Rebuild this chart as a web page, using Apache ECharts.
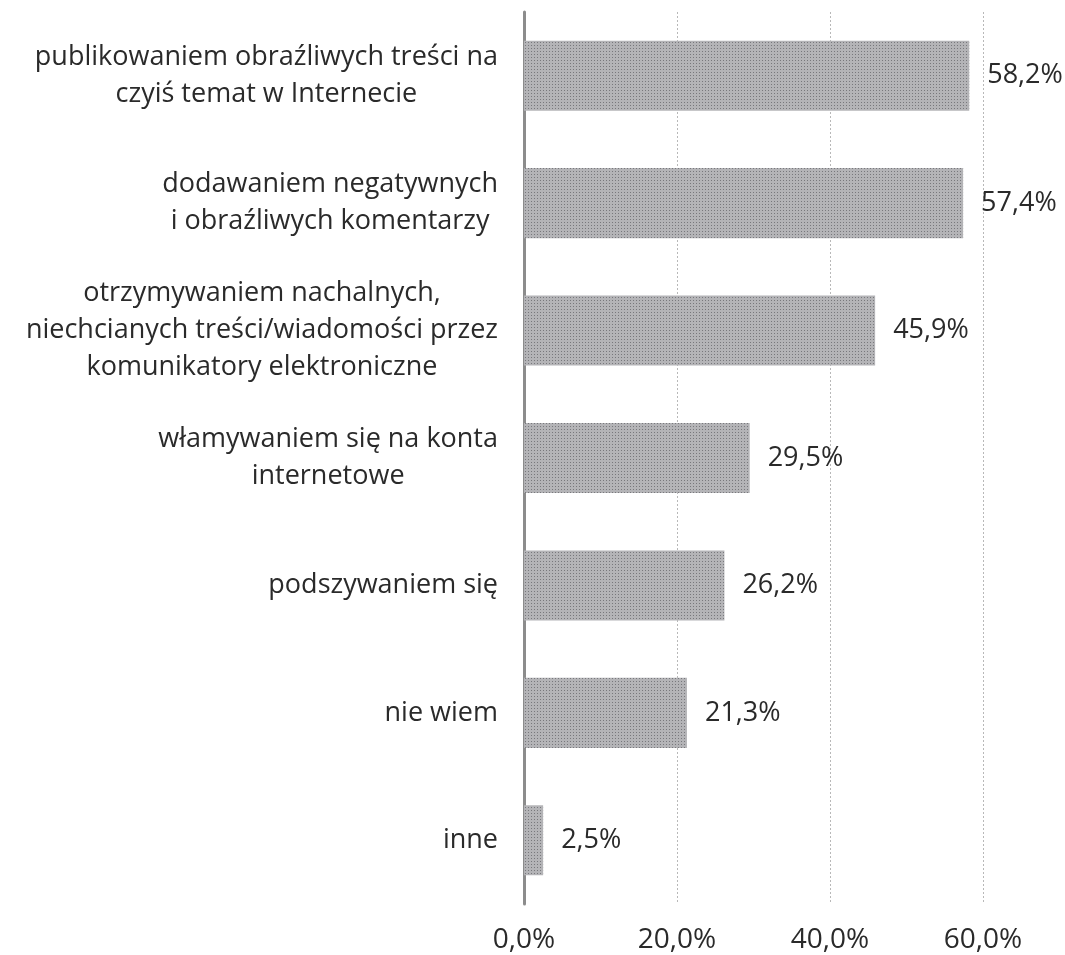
<!DOCTYPE html>
<html>
<head>
<meta charset="utf-8">
<script src="https://cdn.jsdelivr.net/npm/echarts@6/dist/echarts.min.js"></script>
<style>
  html, body { margin: 0; padding: 0; background: #ffffff; }
  #chart { width: 1065px; height: 955px; }
</style>
</head>
<body>
<div id="chart"></div>
<script>
// Categories (top to bottom as displayed)
const categories = [
  'publikowaniem obraźliwych treści na\nczyiś temat w Internecie',
  'dodawaniem negatywnych\ni obraźliwych komentarzy',
  'otrzymywaniem nachalnych,\nniechcianych treści/wiadomości przez\nkomunikatory elektroniczne',
  'włamywaniem się na konta\ninternetowe',
  'podszywaniem się',
  'nie wiem',
  'inne'
];
// Share of answers, in percent
const values = [58.2, 57.4, 45.9, 29.5, 26.2, 21.3, 2.5];
// Value-axis ticks
const xTicks = [0, 20, 40, 60];

const fmt = v => v.toFixed(1).replace('.', ',') + '%';
const font = '"Open Sans", "Noto Sans", sans-serif';

const chart = echarts.init(document.getElementById('chart'), null, { renderer: 'canvas' });

chart.setOption({
  backgroundColor: '#ffffff',
  animation: false,
  grid: { left: 524, right: 82, top: 12, bottom: 51, containLabel: false },
  xAxis: {
    type: 'value',
    min: xTicks[0],
    max: xTicks[xTicks.length - 1],
    interval: xTicks[1] - xTicks[0],
    axisLine: { show: false },
    axisTick: { show: false },
    splitLine: { show: true, lineStyle: { color: '#b8b8b8', width: 1, type: [2, 2] } },
    axisLabel: {
      formatter: fmt,
      color: '#2a2a2a',
      fontFamily: font,
      fontSize: 28,
      margin: 22
    }
  },
  yAxis: {
    type: 'category',
    inverse: true,
    data: categories,
    axisLine: { show: true, lineStyle: { color: '#8c8c8c', width: 3 } },
    axisTick: { show: false },
    splitLine: { show: false },
    axisLabel: {
      margin: 26,
      align: 'right',
      formatter: v => v.split('\n').map(s => '{c|' + s + '}').join('\n'),
      rich: {
        c: {
          align: 'center',
          color: '#2a2a2a',
          fontFamily: font,
          fontSize: 27,
          lineHeight: 37
        }
      }
    }
  },
  series: [{
    type: 'bar',
    data: values,
    barCategoryGap: '45%',
    itemStyle: {
      color: '#b4b4b7',
      decal: {
        symbol: 'rect',
        symbolSize: 1,
        dashArrayX: [[1, 2]],
        dashArrayY: [1, 2],
        rotation: 0,
        color: 'rgba(80,80,85,0.6)'
      }
    },
    label: {
      show: true,
      position: 'right',
      distance: 18,
      formatter: p => fmt(p.value),
      color: '#2a2a2a',
      fontFamily: font,
      fontSize: 27
    }
  }]
});
</script>
</body>
</html>
